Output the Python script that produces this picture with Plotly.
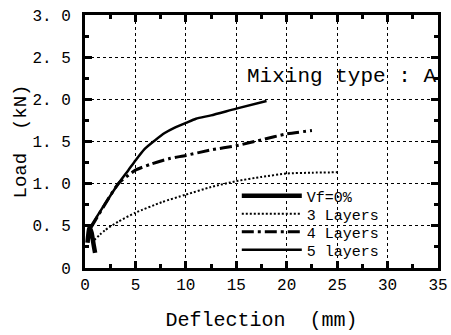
import plotly.graph_objects as go

# ---- data ----
vf0_x = [0.25, 0.45, 0.65, 0.85, 1.0]
vf0_y = [0.30, 0.48, 0.42, 0.28, 0.18]

l3_x = [0.9, 2.0, 3.3, 5.0, 7.6, 10.0, 12.5, 15.0, 17.5, 20.0, 22.5, 25.0]
l3_y = [0.33, 0.45, 0.55, 0.655, 0.78, 0.87, 0.96, 1.03, 1.08, 1.12, 1.13, 1.135]

l4_x = [0.6, 1.9, 3.3, 4.3, 5.0, 6.6, 8.3, 10.0, 12.5, 15.0, 17.5, 20.0, 22.5]
l4_y = [0.48, 0.74, 1.00, 1.10, 1.16, 1.235, 1.295, 1.335, 1.40, 1.45, 1.52, 1.59, 1.63]

l5_x = [0.6, 1.9, 3.3, 4.3, 5.0, 5.9, 6.9, 7.9, 8.9, 10.0, 11.0, 12.5, 15.0, 18.0]
l5_y = [0.50, 0.745, 1.00, 1.16, 1.275, 1.41, 1.51, 1.60, 1.665, 1.72, 1.77, 1.81, 1.89, 1.98]

x_ticks = [0, 5, 10, 15, 20, 25, 30, 35]
y_ticks = [0, 0.5, 1.0, 1.5, 2.0, 2.5, 3.0]
y_tick_text = ["0", "0. 5", "1. 0", "1. 5", "2. 0", "2. 5", "3. 0"]

FONT = "Liberation Mono"

series = [
    ("Vf=0%", vf0_x, vf0_y, dict(color="black", width=4.5), "legend", 0.285),
    ("3 Layers", l3_x, l3_y, dict(color="black", width=2, dash="2px,2px"), "legend2", 0.213),
    ("4 Layers", l4_x, l4_y, dict(color="black", width=3, dash="12px,4px,3px,4px"), "legend3", 0.142),
    ("5 layers", l5_x, l5_y, dict(color="black", width=2.5), "legend4", 0.071),
]

fig = go.Figure()
legends = {}
for name, xs, ys, line, lg, ly in series:
    line = dict(line, shape="spline", smoothing=0.6)
    fig.add_trace(go.Scatter(x=xs, y=ys, mode="lines", name=name, line=line, legend=lg))
    legends[lg] = dict(x=0.43, y=ly, xanchor="left", yanchor="middle",
                       bgcolor="rgba(0,0,0,0)", borderwidth=0,
                       font=dict(family=FONT, size=15, color="black"),
                       itemwidth=60)

axis_common = dict(
    showline=True, linecolor="black", linewidth=3, mirror="allticks",
    ticks="inside", ticklen=7, tickwidth=3, tickcolor="black",
    showgrid=True, gridcolor="black", gridwidth=1, griddash="dot",
    zeroline=False, automargin=False,
)

fig.update_xaxes(range=[0, 35], tickvals=x_ticks,
                 tickfont=dict(family=FONT, size=16, color="black"),
                 minor=dict(ticks="inside", ticklen=4, tickwidth=3, tickcolor="black", dtick=2.5, showgrid=False),
                 title=dict(text="Deflection  (mm)", font=dict(family=FONT, size=20, color="black"), standoff=18),
                 **axis_common)
fig.update_yaxes(range=[0, 3], tickvals=y_ticks, ticktext=y_tick_text,
                 tickfont=dict(family=FONT, size=16, color="black"),
                 ticklabelstandoff=8,
                 minor=dict(ticks="inside", ticklen=4, tickwidth=3, tickcolor="black", dtick=0.25, showgrid=False),
                 title=dict(text="Load  (kN)", font=dict(family=FONT, size=19, color="black"), standoff=0),
                 **axis_common)

fig.add_annotation(x=1.0, y=0.755, xref="paper", yref="paper", xanchor="right", yanchor="middle",
                   text="Mixing type : A", showarrow=False,
                   font=dict(family=FONT, size=21, color="black"))

fig.update_layout(
    width=451, height=335,
    margin=dict(l=85, r=13, t=15, b=67),
    paper_bgcolor="white", plot_bgcolor="white",
    showlegend=True,
    **legends,
)

fig.write_html("out.html", config={"displayModeBar": False},
               post_script="document.body.style.margin='0';")
